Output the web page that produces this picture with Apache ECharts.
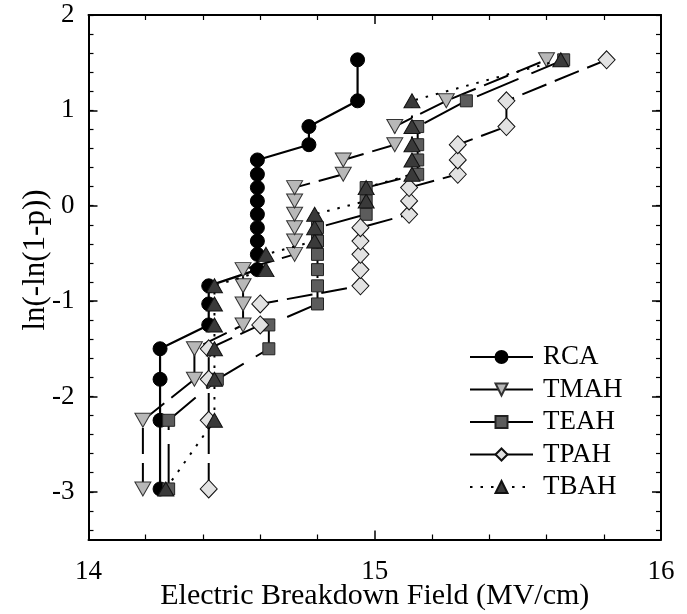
<!DOCTYPE html>
<html><head><meta charset="utf-8">
<script src="https://cdn.jsdelivr.net/npm/echarts@6/dist/echarts.min.js"></script>
<style>html,body{margin:0;padding:0;background:#fff}#c{width:687px;height:614px}</style>
</head><body><div id="c"></div>
<script>
// Weibull plotting positions ln(-ln(1-p)) (same 20 levels for each sample)
const probLevels = [-2.97, -2.25, -1.82, -1.50, -1.25, -1.03, -0.84, -0.67, -0.51, -0.37,
                    -0.23, -0.09, 0.05, 0.19, 0.33, 0.48, 0.64, 0.83, 1.10, 1.53];
// Breakdown field (MV/cm) for each sample
const xRCA  = [14.25,14.25,14.25,14.25,14.42,14.42,14.42,14.59,14.59,14.59,14.59,14.59,14.59,14.59,14.59,14.59,14.77,14.77,14.94,14.94];
const xTMAH = [14.19,14.19,14.37,14.37,14.54,14.54,14.54,14.54,14.72,14.72,14.72,14.72,14.72,14.72,14.89,14.89,15.07,15.07,15.25,15.60];
const xTEAH = [14.28,14.28,14.45,14.63,14.63,14.80,14.80,14.80,14.80,14.80,14.80,14.97,14.97,14.97,15.15,15.15,15.15,15.15,15.32,15.66];
const xTPAH = [14.42,14.42,14.42,14.42,14.60,14.60,14.95,14.95,14.95,14.95,14.95,15.12,15.12,15.12,15.29,15.29,15.29,15.46,15.46,15.81];
const xTBAH = [14.27,14.44,14.44,14.44,14.44,14.44,14.44,14.62,14.62,14.79,14.79,14.79,14.97,14.97,15.13,15.13,15.13,15.13,15.13,15.65];
const seriesNames = ['RCA', 'TMAH', 'TEAH', 'TPAH', 'TBAH'];
const xRange = [14, 16];
const yRange = [-3.5, 2];
const xTitle = 'Electric Breakdown Field (MV/cm)';
const yTitle = 'ln(-ln(1-p))';

const FONT = '"Liberation Serif", "Times New Roman", serif';
const L = 88.5, R = 26, T = 15, B = 74.5;
const unit = (614 - T - B) / (yRange[1] - yRange[0]);

function pts(xs) { return xs.map((x, i) => [x, probLevels[i]]); }

const styles = [
  {symbol: 'circle', size: 14, rot: 0, fill: '#000', border: '#000', dash: 'solid', w: 2.2},
  {symbol: 'triangle', size: [16, 14], rot: 180, fill: '#b8b8b8', border: '#333', dash: [26, 9], w: 2},
  {symbol: 'rect', size: 12, rot: 0, fill: '#5c5c5c', border: '#222', dash: [45, 14], w: 2},
  {symbol: 'diamond', size: [17, 18], rot: 0, fill: '#e2e2e2', border: '#111', dash: [26, 9], w: 2},
  {symbol: 'triangle', size: [16, 14], rot: 0, fill: '#3a3a3a', border: '#111', dash: [2.5, 8], w: 2}
];
const xs = [xRCA, xTMAH, xTEAH, xTPAH, xTBAH];

const chart = echarts.init(document.getElementById('c'), null, {renderer: 'canvas'});
const axisLine = {show: true, onZero: false, lineStyle: {color: '#000', width: 2}};
const noLine = {show: false, onZero: false};
const hiddenX = (g) => ({type: 'value', gridIndex: g, min: xRange[0], max: xRange[1], show: false, axisLine: noLine});
const gridBase = {left: L, right: R, top: T, containLabel: false, outerBoundsMode: 'none'};

chart.setOption({
  animation: false,
  backgroundColor: '#fff',
  grid: [
    Object.assign({}, gridBase, {bottom: B}),
    Object.assign({}, gridBase, {bottom: B + 0.5 * unit}),
    Object.assign({}, gridBase, {bottom: B + 0.1 * unit})
  ],
  xAxis: [
    {type: 'value', gridIndex: 0, position: 'bottom', min: xRange[0], max: xRange[1], interval: 1,
     axisLine, splitLine: {show: false},
     axisTick: {show: true, inside: true, length: 9, lineStyle: {color: '#000', width: 1.5}},
     minorTick: {show: true, splitNumber: 5, length: 5, lineStyle: {color: '#000', width: 1.2}},
     axisLabel: {color: '#000', fontFamily: FONT, fontSize: 27, margin: 19},
     name: xTitle, nameLocation: 'middle', nameGap: 42, nameMoveOverlap: false,
     nameTextStyle: {color: '#000', fontFamily: FONT, fontSize: 30}},
    {type: 'value', gridIndex: 0, position: 'top', min: xRange[0], max: xRange[1], interval: 1,
     axisLine, splitLine: {show: false},
     axisTick: {show: true, inside: true, length: 9, lineStyle: {color: '#000', width: 1.5}},
     minorTick: {show: true, splitNumber: 5, length: 5, lineStyle: {color: '#000', width: 1.2}},
     axisLabel: {show: false}},
    hiddenX(1), hiddenX(2)
  ],
  yAxis: [
    {type: 'value', gridIndex: 0, position: 'left', min: yRange[0], max: yRange[1],
     axisLine, splitLine: {show: false}, axisTick: {show: false}, axisLabel: {show: false}},
    {type: 'value', gridIndex: 0, position: 'right', min: yRange[0], max: yRange[1],
     axisLine, splitLine: {show: false}, axisTick: {show: false}, axisLabel: {show: false}},
    {type: 'value', gridIndex: 1, position: 'left', min: -3, max: 2, interval: 1,
     axisLine: noLine, splitLine: {show: false},
     axisTick: {show: true, inside: true, length: 9, lineStyle: {color: '#000', width: 1.5}},
     axisLabel: {color: '#000', fontFamily: FONT, fontSize: 27, margin: 14}},
    {type: 'value', gridIndex: 1, position: 'right', min: -3, max: 2, interval: 1,
     axisLine: noLine, splitLine: {show: false},
     axisTick: {show: true, inside: true, length: 9, lineStyle: {color: '#000', width: 1.5}},
     axisLabel: {show: false}},
    {type: 'value', gridIndex: 2, position: 'left', min: -3.4, max: 2, interval: 0.2,
     axisLine: noLine, splitLine: {show: false},
     axisTick: {show: true, inside: true, length: 5, lineStyle: {color: '#000', width: 1.2}},
     axisLabel: {show: false}},
    {type: 'value', gridIndex: 2, position: 'right', min: -3.4, max: 2, interval: 0.2,
     axisLine: noLine, splitLine: {show: false},
     axisTick: {show: true, inside: true, length: 5, lineStyle: {color: '#000', width: 1.2}},
     axisLabel: {show: false}}
  ],
  legend: {
    orient: 'vertical', left: 464, top: 338, itemWidth: 63, itemHeight: 15, itemGap: 4.5,
    textStyle: {color: '#000', fontFamily: FONT, fontSize: 27, lineHeight: 28, padding: [0, 0, 0, 5]},
    data: seriesNames.map((n, i) => ({name: n, lineStyle: {type: i === 4 ? [2.5, 8] : 'solid'}}))
  },
  graphic: [{
    type: 'text', x: 36, y: 260, rotation: Math.PI / 2,
    style: {text: yTitle, font: '31px ' + FONT, fill: '#000', align: 'center', verticalAlign: 'middle'}
  }],
  series: seriesNames.map((n, i) => ({
    name: n, type: 'line', xAxisIndex: 0, yAxisIndex: 0,
    data: pts(xs[i]),
    symbol: styles[i].symbol, symbolSize: styles[i].size, symbolRotate: styles[i].rot,
    showAllSymbol: true,
    itemStyle: {color: styles[i].fill, borderColor: styles[i].border, borderWidth: 1, opacity: 1},
    lineStyle: {color: '#000', width: styles[i].w, type: styles[i].dash},
    emphasis: {disabled: true},
    z: 2 + i
  }))
});
</script></body></html>
